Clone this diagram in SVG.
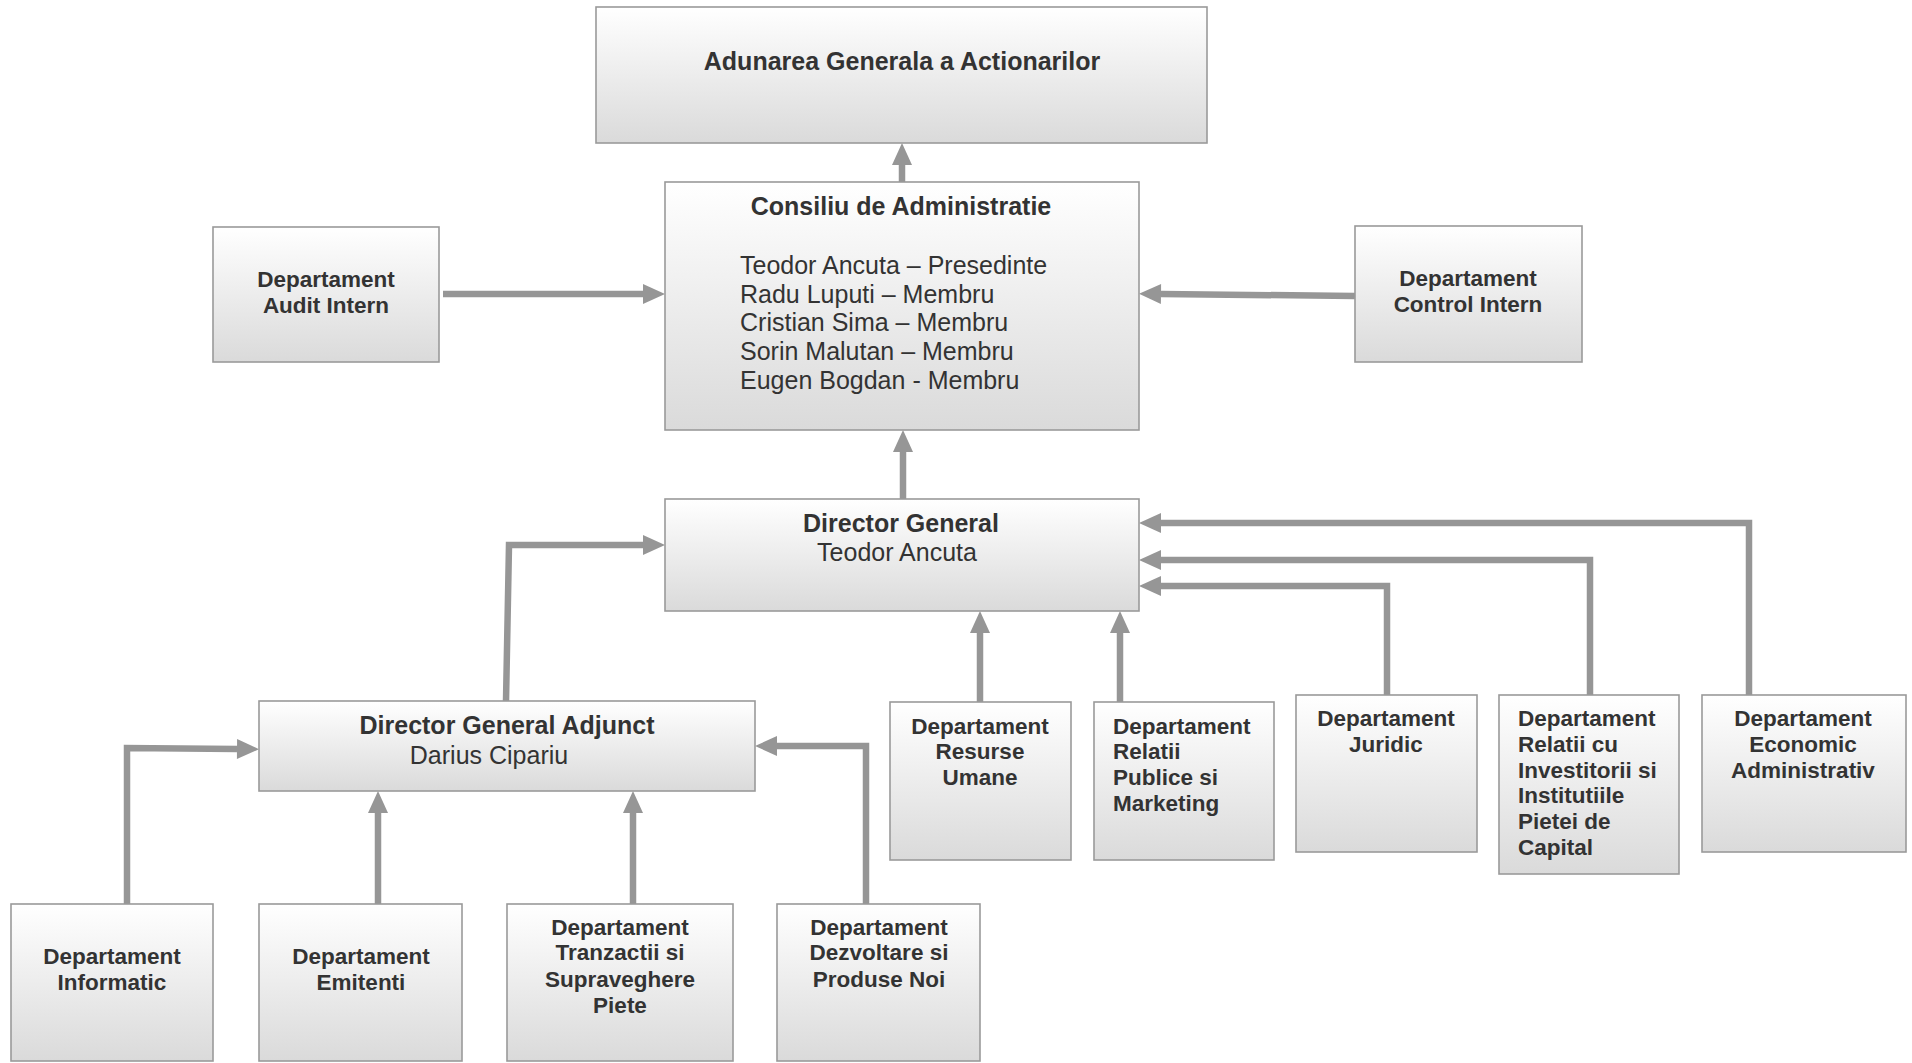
<svg xmlns="http://www.w3.org/2000/svg" width="1912" height="1063" viewBox="0 0 1912 1063">
<style>
.box{fill:url(#g);stroke:#9a9a9a;stroke-width:1.6}
.t{font-family:"Liberation Sans",Arial,sans-serif;fill:#333}
.h{font-size:25px;font-weight:bold}
.r{font-size:25px}
.d{font-size:22.5px;font-weight:bold}
.c{text-anchor:middle}
.conn path{fill:none;stroke:#969696;stroke-width:6.5;stroke-linejoin:miter;marker-end:url(#ah)}
</style>
<defs>
<linearGradient id="g" x1="0" y1="0" x2="0" y2="1">
<stop offset="0" stop-color="#ffffff"/>
<stop offset="1" stop-color="#dadada"/>
</linearGradient>
<marker id="ah" markerUnits="userSpaceOnUse" markerWidth="22" markerHeight="20" refX="0" refY="10" orient="auto" viewBox="0 0 22 20" overflow="visible">
<path d="M0,0 L22,10 L0,20 z" fill="#969696"/>
</marker>
</defs>
<rect width="1912" height="1063" fill="#ffffff"/>

<g id="connectors" class="conn">
<path d="M902,182 L902,165"/>
<path d="M443,294 L643,294"/>
<path d="M1355,296 L1161,294"/>
<path d="M903,499 L903,452"/>
<path d="M506,701 L509,545 L643,545"/>
<path d="M980,702 L980,633"/>
<path d="M1120,702 L1120,633"/>
<path d="M1387,695 L1387,586 L1161,586"/>
<path d="M1590,695 L1590,560 L1161,560"/>
<path d="M1749,695 L1749,523 L1161,523"/>
<path d="M127,904 L127,748 L237,749"/>
<path d="M378,904 L378,813"/>
<path d="M633,904 L633,813"/>
<path d="M866,904 L866,746 L777,746"/>
</g>

<g id="aga">
<rect class="box" x="596" y="7" width="611" height="136"/>
<text class="t h c" x="902" y="70">Adunarea Generala a Actionarilor</text>
</g>

<g id="consiliu">
<rect class="box" x="665" y="182" width="474" height="248"/>
<text class="t h c" x="901" y="215">Consiliu de Administratie</text>
<text class="t r" x="740" y="274">Teodor Ancuta – Presedinte</text>
<text class="t r" x="740" y="303">Radu Luputi – Membru</text>
<text class="t r" x="740" y="331">Cristian Sima – Membru</text>
<text class="t r" x="740" y="360">Sorin Malutan – Membru</text>
<text class="t r" x="740" y="389">Eugen Bogdan - Membru</text>
</g>

<g id="audit">
<rect class="box" x="213" y="227" width="226" height="135"/>
<text class="t d c" x="326" y="287">Departament</text>
<text class="t d c" x="326" y="313">Audit Intern</text>
</g>

<g id="control">
<rect class="box" x="1355" y="226" width="227" height="136"/>
<text class="t d c" x="1468" y="286">Departament</text>
<text class="t d c" x="1468" y="312">Control Intern</text>
</g>

<g id="dg">
<rect class="box" x="665" y="499" width="474" height="112"/>
<text class="t h c" x="901" y="532">Director General</text>
<text class="t r c" x="897" y="561">Teodor Ancuta</text>
</g>

<g id="dga">
<rect class="box" x="259" y="701" width="496" height="90"/>
<text class="t h c" x="507" y="734">Director General Adjunct</text>
<text class="t r c" x="489" y="764">Darius Cipariu</text>
</g>

<g id="resurse">
<rect class="box" x="890" y="702" width="181" height="158"/>
<text class="t d c" x="980" y="734">Departament</text>
<text class="t d c" x="980" y="759">Resurse</text>
<text class="t d c" x="980" y="785">Umane</text>
</g>

<g id="relatii-publice">
<rect class="box" x="1094" y="702" width="180" height="158"/>
<text class="t d" x="1113" y="734">Departament</text>
<text class="t d" x="1113" y="759">Relatii</text>
<text class="t d" x="1113" y="785">Publice si</text>
<text class="t d" x="1113" y="811">Marketing</text>
</g>

<g id="juridic">
<rect class="box" x="1296" y="695" width="181" height="157"/>
<text class="t d c" x="1386" y="726">Departament</text>
<text class="t d c" x="1386" y="752">Juridic</text>
</g>

<g id="relatii-investitori">
<rect class="box" x="1499" y="695" width="180" height="179"/>
<text class="t d" x="1518" y="726">Departament</text>
<text class="t d" x="1518" y="752">Relatii cu</text>
<text class="t d" x="1518" y="778">Investitorii si</text>
<text class="t d" x="1518" y="803">Institutiile</text>
<text class="t d" x="1518" y="829">Pietei de</text>
<text class="t d" x="1518" y="855">Capital</text>
</g>

<g id="economic">
<rect class="box" x="1702" y="695" width="204" height="157"/>
<text class="t d c" x="1803" y="726">Departament</text>
<text class="t d c" x="1803" y="752">Economic</text>
<text class="t d c" x="1803" y="778">Administrativ</text>
</g>

<g id="informatic">
<rect class="box" x="11" y="904" width="202" height="157"/>
<text class="t d c" x="112" y="964">Departament</text>
<text class="t d c" x="112" y="990">Informatic</text>
</g>

<g id="emitenti">
<rect class="box" x="259" y="904" width="203" height="157"/>
<text class="t d c" x="361" y="964">Departament</text>
<text class="t d c" x="361" y="990">Emitenti</text>
</g>

<g id="tranzactii">
<rect class="box" x="507" y="904" width="226" height="157"/>
<text class="t d c" x="620" y="935">Departament</text>
<text class="t d c" x="620" y="960">Tranzactii si</text>
<text class="t d c" x="620" y="987">Supraveghere</text>
<text class="t d c" x="620" y="1013">Piete</text>
</g>

<g id="dezvoltare">
<rect class="box" x="777" y="904" width="203" height="157"/>
<text class="t d c" x="879" y="935">Departament</text>
<text class="t d c" x="879" y="960">Dezvoltare si</text>
<text class="t d c" x="879" y="987">Produse Noi</text>
</g>
</svg>
